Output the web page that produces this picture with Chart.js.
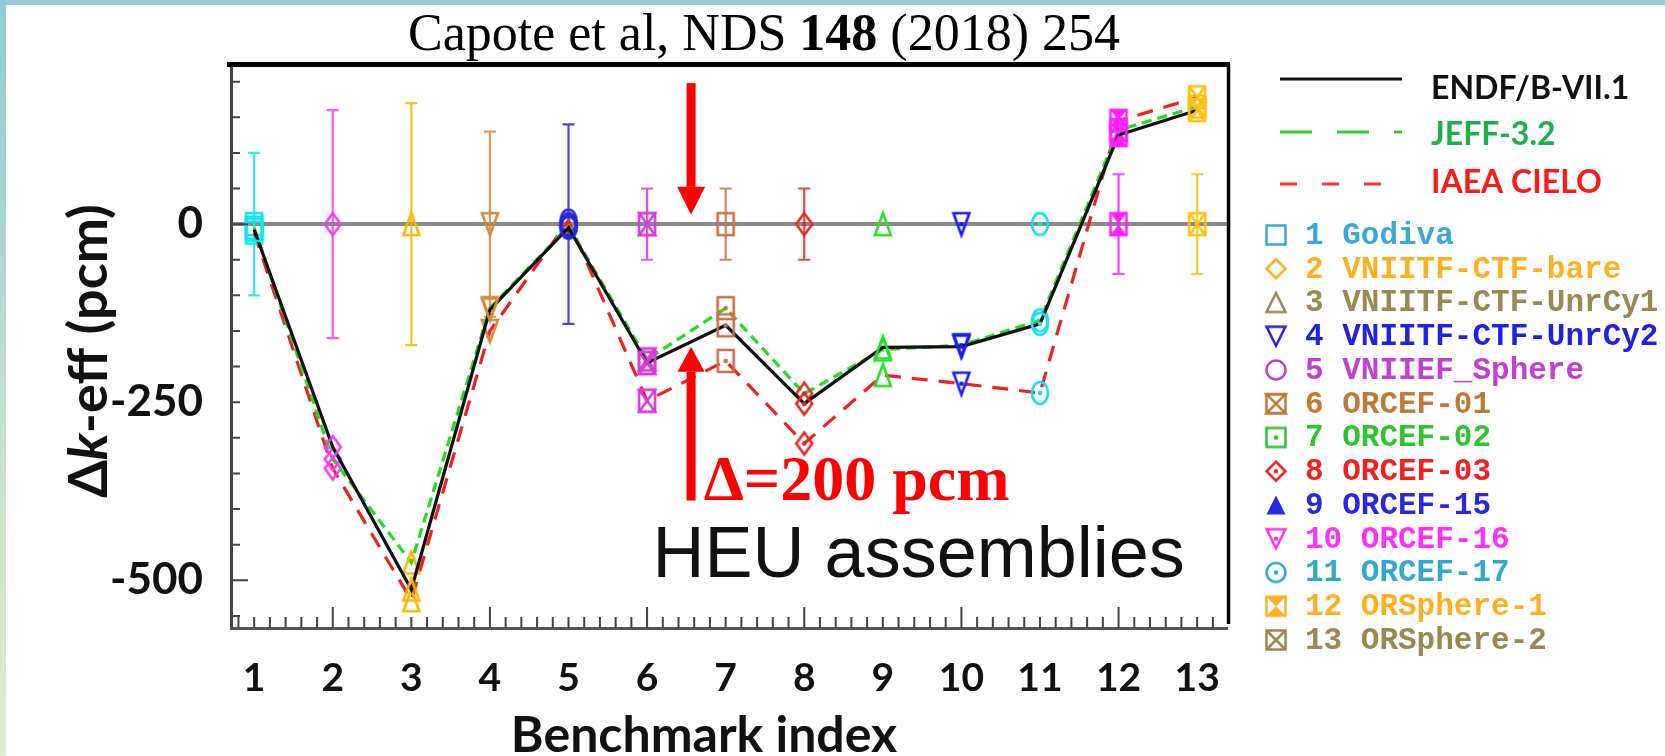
<!DOCTYPE html>
<html>
<head>
<meta charset="utf-8">
<title>HEU assemblies</title>
<script src="https://cdn.jsdelivr.net/npm/chart.js"></script>
<style>
html, body { margin: 0; padding: 0; background: #fff; }
#page { position: relative; width: 1665px; height: 756px; overflow: hidden; background: #fff; }
#page .edgeTop { position: absolute; left: 0; top: 0; width: 1665px; height: 5px; background: #96cdd9; }
#page .edgeLeft { position: absolute; left: 0; top: 0; width: 6px; height: 756px;
  background: linear-gradient(#8fcad6, #b4dad2 40%, #cfe6cb 70%, #dcedd2); }
#chartBox { position: absolute; left: 0; top: 0; width: 1665px; height: 756px; }
</style>
</head>
<body>
<div id="page">
  <div class="edgeTop"></div>
  <div class="edgeLeft"></div>
  <div id="chartBox"><canvas id="myChart"></canvas></div>
</div>
<script>
// DATA: delta k-eff (C-E) in pcm for the HEU benchmarks

var benchIndex = [1, 2, 3, 4, 5, 6, 7, 8, 9, 10, 11, 12, 13];
var benchNames = ['Godiva', 'VNIITF-CTF-bare', 'VNIITF-CTF-UnrCy1', 'VNIITF-CTF-UnrCy2',
    'VNIIEF_Sphere', 'ORCEF-01', 'ORCEF-02', 'ORCEF-03', 'ORCEF-15', 'ORCEF-16',
    'ORCEF-17', 'ORSphere-1', 'ORSphere-2'];

var endfValues  = [-8, -313, -513, -120, -5, -195, -142, -252, -173, -172, -140, 125, 160];
var jeffValues  = [-5, -330, -475, -118, -3, -190, -118, -238, -176, -170, -135, 132, 165];
var cieloValues = [-12, -343, -528, -150, 5, -248, -192, -308, -212, -224, -237, 145, 178];

var exptValues = [0, 0, 0, 0, 0, 0, 0, 0, 0, 0, 0, 0, 0];
var exptUnc    = [100, 160, 170, 130, 140, 50, 50, 50, 0, 0, 0, 70, 70];

var libNames = ['ENDF/B-VII.1', 'JEFF-3.2', 'IAEA CIELO'];

var xTickValues = benchIndex;
var yTickLabels = [0, -250, -500];

// symbols and colours of each benchmark
var plotShapes   = ['square', 'diamond', 'triUp', 'triDown', 'circle', 'hourglass', 'squareDot',
    'diamondDot', 'triUp', 'triDownDot', 'circleDot', 'hourglassFill', 'squareX'];
var legendShapes = ['square', 'diamond', 'triUp', 'triDown', 'circle', 'hourglass', 'squareDot',
    'diamondDot', 'triUpFill', 'triDownDot', 'circleDot', 'hourglassFill', 'squareX'];
var plotColors   = ['#12e4ec', '#f43cf4', '#ffb400', '#d88a3c', '#2626dc', '#d63cd6', '#c87048',
    '#e42828', '#28e028', '#1c1cf0', '#14e0f4', '#ff20ff', '#ffc010'];
var legendColors = ['#3aa8d8', '#ffb020', '#9a8850', '#2020e8', '#c040d0', '#c07a36', '#2ec42e',
    '#f42020', '#2828e4', '#ff30ff', '#30a8d0', '#ffb020', '#9a8850'];

var libLineColors = ['#111111', '#22dd22', '#ee2222'];
var libTextColors = ['#111111', '#1fae4a', '#ff1a1a'];

// END DATA


// MARKERS

function makeMarker(shape, color, w, h, lw) {
    var c = document.createElement('canvas');
    c.width = Math.ceil(w + 2 * lw + 2);
    c.height = Math.ceil(h + 2 * lw + 2);
    var g = c.getContext('2d');
    var cx = c.width / 2, cy = c.height / 2, rx = w / 2, ry = h / 2;
    g.strokeStyle = color;
    g.fillStyle = color;
    g.lineWidth = lw;
    g.lineJoin = 'miter';

    function box() { g.beginPath(); g.rect(cx - rx, cy - ry, w, h); g.stroke(); }
    function dot() { g.beginPath(); g.arc(cx, cy, lw * 0.9, 0, Math.PI * 2); g.fill(); }
    function diamond() {
        g.beginPath();
        g.moveTo(cx, cy - ry); g.lineTo(cx + rx, cy); g.lineTo(cx, cy + ry); g.lineTo(cx - rx, cy);
        g.closePath();
    }
    function tri(up) {
        var s = up ? 1 : -1;
        g.beginPath();
        g.moveTo(cx, cy - s * ry); g.lineTo(cx + rx, cy + s * ry); g.lineTo(cx - rx, cy + s * ry);
        g.closePath();
    }

    switch (shape) {
        case 'square': box(); break;
        case 'squareDot': box(); dot(); break;
        case 'squareX':
            box();
            g.beginPath();
            g.moveTo(cx - rx, cy - ry); g.lineTo(cx + rx, cy + ry);
            g.moveTo(cx + rx, cy - ry); g.lineTo(cx - rx, cy + ry);
            g.stroke();
            break;
        case 'hourglass':
        case 'hourglassFill':
            box();
            g.beginPath();
            g.moveTo(cx - rx, cy - ry); g.lineTo(cx + rx, cy - ry); g.lineTo(cx, cy); g.closePath();
            g.moveTo(cx - rx, cy + ry); g.lineTo(cx + rx, cy + ry); g.lineTo(cx, cy); g.closePath();
            if (shape === 'hourglassFill') g.fill(); else g.stroke();
            break;
        case 'diamond': diamond(); g.stroke(); break;
        case 'diamondDot': diamond(); g.stroke(); dot(); break;
        case 'triUp': tri(true); g.stroke(); break;
        case 'triUpFill': tri(true); g.fill(); break;
        case 'triDown': tri(false); g.stroke(); break;
        case 'triDownDot': tri(false); g.stroke(); dot(); break;
        case 'circle':
            g.beginPath(); g.ellipse(cx, cy, rx, ry, 0, 0, Math.PI * 2); g.stroke();
            break;
        case 'circleDot':
            g.beginPath(); g.ellipse(cx, cy, rx, ry, 0, 0, Math.PI * 2); g.stroke(); dot();
            break;
    }
    return c;
}

var plotMarkers = plotShapes.map(function(s, i) { return makeMarker(s, plotColors[i], 16, 22, 2.6); });
var legendMarkers = legendShapes.map(function(s, i) { return makeMarker(s, legendColors[i], 19, 19, 2.5); });


// PLUGINS

function drawParts(ctx, parts, x, y, align) {
    var total = 0;
    parts.forEach(function(p) { ctx.font = p[1]; total += ctx.measureText(p[0]).width; });
    var px = align === 'center' ? x - total / 2 : x;
    ctx.textAlign = 'left';
    parts.forEach(function(p) {
        ctx.font = p[1];
        ctx.fillText(p[0], px, y);
        px += ctx.measureText(p[0]).width;
    });
}

function drawArrow(ctx, x, yTail, yTip, shaft, headW, headL) {
    var dir = yTip > yTail ? 1 : -1;
    var yBase = yTip - dir * headL;
    ctx.fillRect(x - shaft / 2, Math.min(yTail, yBase), shaft, Math.abs(yBase - yTail));
    ctx.beginPath();
    ctx.moveTo(x - headW / 2, yBase);
    ctx.lineTo(x + headW / 2, yBase);
    ctx.lineTo(x, yTip);
    ctx.closePath();
    ctx.fill();
}

var errorBars = {
    id: 'errorBars',
    beforeDatasetsDraw: function(chart) {
        var ctx = chart.ctx, xs = chart.scales.x, ys = chart.scales.y;
        ctx.save();
        ctx.lineWidth = 2.2;
        exptUnc.forEach(function(u, i) {
            if (!u) return;
            var px = xs.getPixelForValue(benchIndex[i]);
            var top = ys.getPixelForValue(exptValues[i] + u);
            var bot = ys.getPixelForValue(exptValues[i] - u);
            ctx.strokeStyle = plotColors[i];
            ctx.globalAlpha = 0.85;
            ctx.beginPath();
            ctx.moveTo(px, top); ctx.lineTo(px, bot);
            ctx.moveTo(px - 6, top); ctx.lineTo(px + 6, top);
            ctx.moveTo(px - 6, bot); ctx.lineTo(px + 6, bot);
            ctx.stroke();
        });
        ctx.restore();
    }
};

var plotFrame = {
    id: 'plotFrame',
    afterDatasetsDraw: function(chart) {
        var ctx = chart.ctx, a = chart.chartArea, xs = chart.scales.x, ys = chart.scales.y;
        ctx.save();
        ctx.strokeStyle = '#444';
        ctx.lineWidth = 2;
        ctx.beginPath();
        // inward ticks on the left axis
        ys.ticks.forEach(function(t) {
            var py = ys.getPixelForValue(t.value);
            var len = t.value % 500 === 0 ? 17 : 9;
            ctx.moveTo(a.left, py); ctx.lineTo(a.left + len, py);
        });
        // inward ticks on the bottom axis, every 0.2
        for (var i = 4; i <= 66; i++) {
            var px = xs.getPixelForValue(i / 5);
            var len = i % 10 === 0 ? 21 : 11;
            ctx.moveTo(px, a.bottom); ctx.lineTo(px, a.bottom - len);
        }
        ctx.stroke();

        // top and right borders
        ctx.strokeStyle = '#000';
        ctx.lineWidth = 5;
        ctx.beginPath();
        ctx.moveTo(a.left - 4, a.top - 1.5); ctx.lineTo(a.right + 3, a.top - 1.5);
        ctx.stroke();
        ctx.lineWidth = 3.5;
        ctx.beginPath();
        ctx.moveTo(a.right + 1.5, a.top - 1.5); ctx.lineTo(a.right + 1.5, a.bottom - 4);
        ctx.stroke();
        ctx.restore();
    }
};

var notes = {
    id: 'notes',
    afterDraw: function(chart) {
        var ctx = chart.ctx, xs = chart.scales.x, ys = chart.scales.y;
        ctx.save();
        ctx.fillStyle = '#ff0000';
        var ax = xs.getPixelForValue(6.56);
        drawArrow(ctx, ax, ys.getPixelForValue(198), ys.getPixelForValue(13), 9, 28, 28);
        drawArrow(ctx, ax, ys.getPixelForValue(-388), ys.getPixelForValue(-172), 9, 27, 25);

        ctx.textBaseline = 'alphabetic';
        ctx.font = 'bold 64px "Liberation Serif"';
        ctx.fillText('\u0394=200 pcm', xs.getPixelForValue(6.72), ys.getPixelForValue(-388));

        ctx.fillStyle = '#111';
        ctx.font = '72px "Liberation Sans"';
        ctx.fillText('HEU assemblies', xs.getPixelForValue(6.07), ys.getPixelForValue(-496));
        ctx.restore();
    }
};

var headings = {
    id: 'headings',
    afterDraw: function(chart) {
        var ctx = chart.ctx;
        ctx.save();
        ctx.fillStyle = '#000';
        ctx.textBaseline = 'alphabetic';
        drawParts(ctx, [
            ['Capote et al, NDS ', '52px "Liberation Serif"'],
            ['148', 'bold 52px "Liberation Serif"'],
            [' (2018) 254', '52px "Liberation Serif"']
        ], 408, 50, 'left');

        ctx.fillStyle = '#111';
        ctx.font = 'bold 50px Lato';
        ctx.textAlign = 'center';
        ctx.fillText('Benchmark index', 704, 752);

        // rotated y title with italic k
        ctx.translate(90, 351);
        ctx.rotate(-Math.PI / 2);
        ctx.textBaseline = 'middle';
        drawParts(ctx, [
            ['\u0394', 'bold 54px Lato'],
            ['k', 'italic bold 54px Lato'],
            ['-eff (pcm)', 'bold 54px Lato']
        ], 0, 0, 'center');
        ctx.restore();
    }
};

var sideLegend = {
    id: 'sideLegend',
    afterDraw: function(chart) {
        var ctx = chart.ctx;
        ctx.save();
        // library line samples
        var lineY = [79, 132, 184], textY = [89, 135, 183];
        var dashes = [[], [32, 25], [17, 25]];
        var ends = [1402, 1402, 1383];
        libNames.forEach(function(name, i) {
            ctx.strokeStyle = i === 0 ? '#111' : (i === 1 ? '#33cc33' : '#ff3333');
            ctx.lineWidth = 3;
            ctx.setLineDash(dashes[i]);
            ctx.beginPath();
            ctx.moveTo(1280, lineY[i]); ctx.lineTo(ends[i], lineY[i]);
            ctx.stroke();
            ctx.fillStyle = libTextColors[i];
            ctx.font = 'bold 32px Lato';
            ctx.textBaseline = 'middle';
            ctx.textAlign = 'left';
            ctx.fillText(name, 1431, textY[i]);
        });
        ctx.setLineDash([]);

        // benchmark list
        ctx.font = 'bold 31px "Liberation Mono"';
        benchNames.forEach(function(name, i) {
            var y = 235 + i * 33.75;
            var m = legendMarkers[i];
            ctx.drawImage(m, 1276 - m.width / 2, y - m.height / 2);
            ctx.fillStyle = legendColors[i];
            ctx.fillText(benchIndex[i] + ' ' + name, 1305, y + 1);
        });
        ctx.restore();
    }
};


// CHART

function libDataset(label, values, i, dash) {
    return {
        label: label,
        data: benchIndex.map(function(x, k) { return {x: x, y: values[k]}; }),
        borderColor: libLineColors[i],
        borderWidth: 3.2,
        borderDash: dash,
        tension: 0,
        pointStyle: plotMarkers,
        pointRadius: 10,
        pointBorderWidth: 0
    };
}

var ctx = document.getElementById('myChart').getContext('2d');
var chart = new Chart(ctx, {
    type: 'line',
    data: {
        datasets: [
            libDataset(libNames[0], endfValues, 0, []),
            libDataset(libNames[1], jeffValues, 1, [10, 6]),
            libDataset(libNames[2], cieloValues, 2, [16, 11]),
            {
                label: 'Experiment',
                data: benchIndex.map(function(x, k) { return {x: x, y: exptValues[k]}; }),
                showLine: false,
                pointStyle: plotMarkers,
                pointRadius: 10
            }
        ]
    },
    options: {
        responsive: true,
        maintainAspectRatio: false,
        animation: false,
        events: [],
        layout: { padding: { left: 0, top: 66, right: 438, bottom: 0 } },
        plugins: { legend: { display: false }, tooltip: { enabled: false }, title: { display: false } },
        scales: {
            x: {
                type: 'linear',
                min: 0.705,
                max: 13.38,
                afterBuildTicks: function(s) { s.ticks = xTickValues.map(function(v) { return {value: v}; }); },
                afterFit: function(s) { s.height = 128; },
                ticks: {
                    autoSkip: false, maxRotation: 0, padding: 27, color: '#111',
                    font: { family: 'Lato', weight: 'bold', size: 39 },
                    callback: function(v) { return String(v); }
                },
                grid: { display: false, drawTicks: false },
                border: { display: true, color: '#555', width: 3 }
            },
            y: {
                type: 'linear',
                min: -567,
                max: 222,
                afterBuildTicks: function(s) {
                    var t = [];
                    for (var v = -550; v <= 200; v += 50) t.push({value: v});
                    s.ticks = t;
                },
                afterFit: function(s) { s.width = 231; },
                ticks: {
                    autoSkip: false, padding: 28, color: '#111',
                    font: { family: 'Lato', weight: 'bold', size: 44 },
                    callback: function(v) { return yTickLabels.indexOf(v) >= 0 ? String(v) : ''; }
                },
                grid: {
                    drawTicks: false,
                    color: function(c) { return c.tick && c.tick.value === 0 ? '#8a8a8a' : 'rgba(0,0,0,0)'; },
                    lineWidth: function(c) { return c.tick && c.tick.value === 0 ? 4 : 0; }
                },
                border: { display: true, color: '#444', width: 3 }
            }
        }
    },
    plugins: [errorBars, plotFrame, notes, headings, sideLegend]
});

// END CHART
</script>
</body>
</html>
